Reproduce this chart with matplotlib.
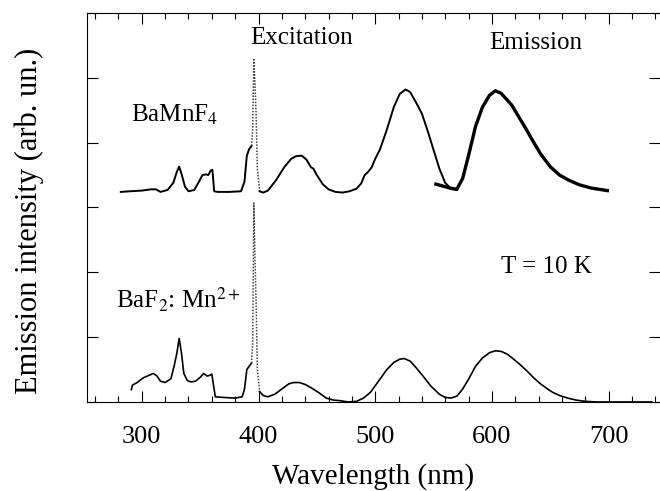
import matplotlib
matplotlib.use('Agg')
import matplotlib.pyplot as plt
import numpy as np
from matplotlib.ticker import MultipleLocator

plt.rcParams['font.family'] = ['Liberation Serif', 'DejaVu Serif']
plt.rcParams['mathtext.fontset'] = 'stix'

# BaMnF4 excitation (upper curve)
wl_ex_mn = [282, 290, 300, 308, 312, 316, 322, 327, 330, 332, 334, 337, 340, 345, 349,
            352, 355, 357, 359, 360.5, 362, 365, 375, 385, 388, 390, 392, 394, 395, 396,
            397, 398, 399, 401, 404, 408, 415, 422, 428, 432, 437, 441, 445, 447, 450,
            455, 460, 466, 472, 478, 484, 488, 491, 494, 497, 500, 504, 510, 516, 521,
            526, 530, 535, 540, 545, 550, 555, 560, 565, 570]
int_ex_mn = [3.24, 3.25, 3.26, 3.28, 3.28, 3.24, 3.27, 3.38, 3.55, 3.63, 3.52, 3.32, 3.25,
             3.27, 3.40, 3.50, 3.51, 3.50, 3.57, 3.58, 3.25, 3.24, 3.24, 3.25, 3.40, 3.80,
             3.90, 3.95, 4.20, 5.28, 4.90, 4.40, 3.60, 3.25, 3.23, 3.26, 3.42, 3.62, 3.75,
             3.79, 3.80, 3.74, 3.62, 3.60, 3.50, 3.36, 3.28, 3.24, 3.23, 3.25, 3.29, 3.37,
             3.50, 3.55, 3.62, 3.75, 3.89, 4.20, 4.55, 4.75, 4.82, 4.78, 4.62, 4.45, 4.18,
             3.89, 3.60, 3.38, 3.29, 3.27]

# BaMnF4 emission
wl_em_mn = [552, 558, 564, 570, 575, 580, 586, 592, 598, 603, 608, 612, 617, 623, 629,
            635, 642, 650, 658, 666, 675, 685, 692, 699]
int_em_mn = [3.36, 3.33, 3.30, 3.28, 3.45, 3.80, 4.25, 4.55, 4.73, 4.80, 4.76, 4.68, 4.58,
             4.40, 4.22, 4.03, 3.82, 3.63, 3.50, 3.42, 3.35, 3.30, 3.28, 3.26]

# BaF2:Mn2+ excitation + emission (lower curve)
wl_baf2 = [291, 292, 296, 301, 306, 310, 313, 316, 320, 325, 328, 330, 332, 334, 336, 339,
           342, 346, 350, 353, 356, 358, 360, 361.5, 363, 370, 380, 386, 388, 390, 392, 394,
           395, 396, 397, 398, 399, 401, 404, 408, 414, 420, 426, 430, 435, 440, 446, 452,
           458, 464, 470, 477, 484, 490, 496, 500, 504, 510, 516, 521, 525, 530, 535, 541,
           548, 555, 560, 565, 570, 575, 580, 586, 592, 598, 603, 608, 613, 618, 624, 630,
           636, 641, 647, 652, 658, 665, 672, 680, 690, 700, 715, 737]
int_baf2 = [0.19, 0.26, 0.30, 0.37, 0.41, 0.44, 0.40, 0.32, 0.30, 0.36, 0.58, 0.75, 0.98,
            0.75, 0.44, 0.33, 0.31, 0.32, 0.38, 0.44, 0.40, 0.41, 0.43, 0.25, 0.08, 0.07,
            0.06, 0.08, 0.20, 0.50, 0.55, 0.60, 0.90, 3.07, 2.20, 1.50, 0.50, 0.16, 0.10,
            0.08, 0.12, 0.20, 0.28, 0.30, 0.30, 0.27, 0.21, 0.14, 0.06, 0.03, 0.02, 0.00,
            0.01, 0.06, 0.15, 0.25, 0.35, 0.50, 0.61, 0.66, 0.67, 0.63, 0.53, 0.40, 0.24,
            0.12, 0.07, 0.06, 0.09, 0.20, 0.35, 0.55, 0.68, 0.76, 0.79, 0.78, 0.74, 0.67,
            0.58, 0.48, 0.37, 0.29, 0.21, 0.15, 0.10, 0.06, 0.03, 0.01, 0.00, 0.00, 0.00,
            0.00]

# the sharp 396 nm lines are drawn dotted in the original
peak_lo, peak_hi = 394, 401


def plot_split(ax, x, y, lw):
    x = np.array(x)
    y = np.array(y)
    a = x <= peak_lo
    b = (x >= peak_lo) & (x <= peak_hi)
    c = x >= peak_hi
    ax.plot(x[a], y[a], color='black', lw=lw)
    ax.plot(x[b], y[b], color='0.25', lw=1.1, ls=(0, (1, 1)))
    ax.plot(x[c], y[c], color='black', lw=lw)


fig = plt.figure(figsize=(6.6, 4.91), dpi=100)
ax = fig.add_axes([0.1318, 0.1813, 0.868, 0.7923])

plot_split(ax, wl_ex_mn, int_ex_mn, 1.4)
ax.plot(wl_em_mn, int_em_mn, color='black', lw=2.4)
plot_split(ax, wl_baf2, int_baf2, 1.2)

ax.set_xlim(253, 744)
ax.set_ylim(0, 6)
ax.xaxis.set_major_locator(MultipleLocator(100))
ax.xaxis.set_minor_locator(MultipleLocator(20))
ax.yaxis.set_major_locator(MultipleLocator(1))
ax.set_yticklabels([])
ax.tick_params(which='both', direction='in', top=True, right=True, labelsize=19)
ax.tick_params(which='major', length=8, width=0.8)
ax.tick_params(which='minor', length=4, width=0.8)
ax.tick_params(axis='x', pad=17)
ax.spines['right'].set_visible(False)
for s in ['left', 'top', 'bottom']:
    ax.spines[s].set_linewidth(0.8)

ax.set_xlabel('Wavelength (nm)', fontsize=21, labelpad=11)
ax.set_ylabel('Emission intensity (arb. un.)', fontsize=22, va='center')
ax.yaxis.set_label_coords(-0.1, 0.465)

ax.text(437, 5.62, 'Excitation', fontsize=18, ha='center', va='center')
ax.text(638, 5.54, 'Emission', fontsize=18, ha='center', va='center')
ax.text(291, 4.43, r'BaMnF$_4$', fontsize=18, ha='left', va='center')
ax.text(278, 1.57, r'BaF$_2$: Mn$^{2+}$', fontsize=18, ha='left', va='center')
ax.text(608, 2.08, 'T = 10 K', fontsize=18, ha='left', va='center')

fig.savefig('out.png', dpi=100)
